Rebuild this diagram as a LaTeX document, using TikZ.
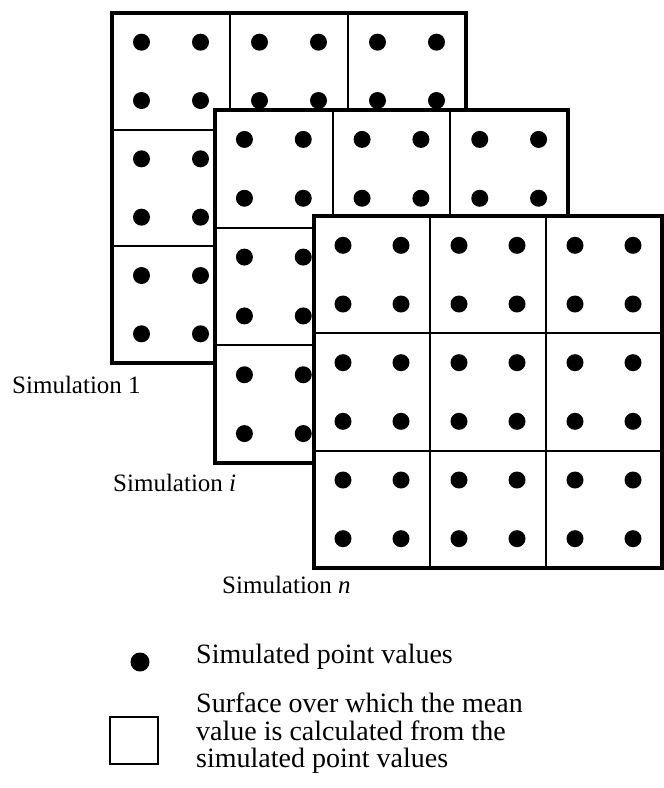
\documentclass[tikz,border=0pt]{standalone}
\usepackage{fontspec}
\setmainfont{Liberation Serif}
\newcommand\labfont{\fontsize{25}{28}\selectfont}
\newcommand\legfont{\fontsize{28}{28}\selectfont}
\tikzset{
  outerline/.style={line width=4pt},
  innerline/.style={line width=2pt},
  simdot/.style={fill=black},
  lab/.style={anchor=base west, inner sep=0pt, font=\labfont},
  leg/.style={anchor=base west, inner sep=0pt, font=\legfont},
}
\newcommand\drawsimgrid[5]{% #1 name, #2 x, #3 y, #4 w, #5 h
  \begin{scope}[shift={(#2,#3)}]
    \fill[white] (0,0) rectangle (#4,#5);
    \foreach \k in {1,2} {
      \draw[innerline] ({\k*#4/3},0) -- ({\k*#4/3},#5);
      \draw[innerline] (0,{\k*#5/3}) -- (#4,{\k*#5/3});
    }
    \foreach \i in {0,1,2} \foreach \j in {0,1,2}
      \foreach \a in {0.25,0.75} \foreach \b in {0.25,0.75}
        \fill[simdot] ({(\i+\a)*#4/3},{(\j+\b)*#5/3}) circle (8.5pt);
    \draw[outerline] (0,0) rectangle (#4,#5);
    \coordinate (#1) at (0,0);
  \end{scope}}
\begin{document}
\begin{tikzpicture}[x=1pt,y=-1pt]
  \useasboundingbox (0,0) rectangle (664,788);
  \drawsimgrid{g1}{112}{13}{354}{350}
  \drawsimgrid{g2}{215}{110}{353}{353}
  \drawsimgrid{g3}{314}{216}{348}{352}
  \node[lab] (lab1) at (12,393) {Simulation 1};
  \node[lab] (labi) at (113,491) {Simulation \textit{i}};
  \node[lab] (labn) at (222,593) {Simulation \textit{n}};
  \fill[simdot] (140,662) circle (9.5pt);
  \node[leg] (leg1) at (196,663) {Simulated point values};
  \draw[line width=2.2pt] (110,717) rectangle (158,764);
  \node[leg] (leg2) at (196,712) {Surface over which the mean};
  \node[leg] (leg3) at (196,740) {value is calculated from the};
  \node[leg] (leg4) at (196,767) {simulated point values};
\end{tikzpicture}
\end{document}
